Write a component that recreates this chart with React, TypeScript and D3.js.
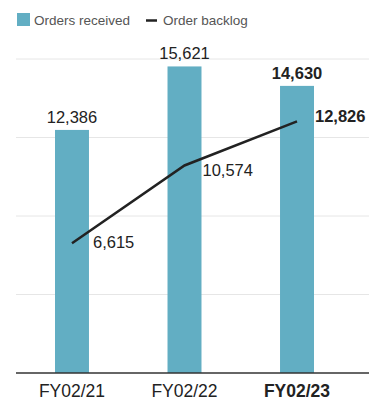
import React from "react";
import * as d3 from "d3";

const categories = ["FY02/21", "FY02/22", "FY02/23"];
const ordersReceived = [12386, 15621, 14630];
const orderBacklog = [6615, 10574, 12826];
const yTicks = [0, 4000, 8000, 12000, 16000];
const highlight = "FY02/23";

const W = 369;
const H = 401;
const FONT = "'Liberation Sans', Arial, Helvetica, sans-serif";

// label nudges (layout only)
const backlogDx = [21, 18, 18];
const backlogDy = [5, 11, 1];

export default function App() {
  const left = 16;
  const right = 369;
  const top = 59;
  const bottom = 373;
  const x = d3.scaleBand().domain(categories).range([55, 314]).paddingInner(0.698).paddingOuter(0);
  const y = d3.scaleLinear().domain([0, 16000]).range([bottom, top]);
  const cx = (c: string) => (x(c) as number) + x.bandwidth() / 2;
  const line = d3
    .line<number>()
    .x((_, i) => cx(categories[i]))
    .y((d) => y(d));
  const fmt = d3.format(",");

  return (
    <svg width={W} height={H} style={{ position: "absolute", left: 0, top: 0 }} fontFamily={FONT}>
      {/* legend */}
      <rect x={17} y={13} width={13} height={13} fill="#62aec3" />
      <text x={34} y={25} fontSize={13.5} fill="#555">Orders received</text>
      <line x1={146} x2={157} y1={20.5} y2={20.5} stroke="#222" strokeWidth={2.5} />
      <text x={163} y={25} fontSize={13.5} fill="#555">Order backlog</text>

      {yTicks.slice(1).map((t) => (
        <line key={t} x1={left} x2={right} y1={y(t)} y2={y(t)} stroke="#e6e6e6" strokeWidth={1} />
      ))}

      {categories.map((c, i) => (
        <rect
          key={c}
          x={x(c)}
          y={y(ordersReceived[i])}
          width={x.bandwidth()}
          height={y(0) - y(ordersReceived[i])}
          fill="#62aec3"
        />
      ))}

      <line x1={left} x2={right} y1={bottom} y2={bottom} stroke="#333" strokeWidth={1.5} />

      <path d={line(orderBacklog) || ""} fill="none" stroke="#222" strokeWidth={2.5} />

      {categories.map((c, i) => (
        <text
          key={"o" + c}
          x={cx(c)}
          y={y(ordersReceived[i]) - 7}
          textAnchor="middle"
          fontSize={16.5}
          fontWeight={c === highlight ? "bold" : "normal"}
          fill="#222"
        >
          {fmt(ordersReceived[i])}
        </text>
      ))}

      {categories.map((c, i) => (
        <text
          key={"b" + c}
          x={cx(c) + backlogDx[i]}
          y={y(orderBacklog[i]) + backlogDy[i]}
          fontSize={16.5}
          fontWeight={c === highlight ? "bold" : "normal"}
          fill="#222"
        >
          {fmt(orderBacklog[i])}
        </text>
      ))}

      {categories.map((c) => (
        <text
          key={"x" + c}
          x={cx(c)}
          y={397}
          textAnchor="middle"
          fontSize={17.5}
          fontWeight={c === highlight ? "bold" : "normal"}
          fill="#222"
        >
          {c}
        </text>
      ))}
    </svg>
  );
}
